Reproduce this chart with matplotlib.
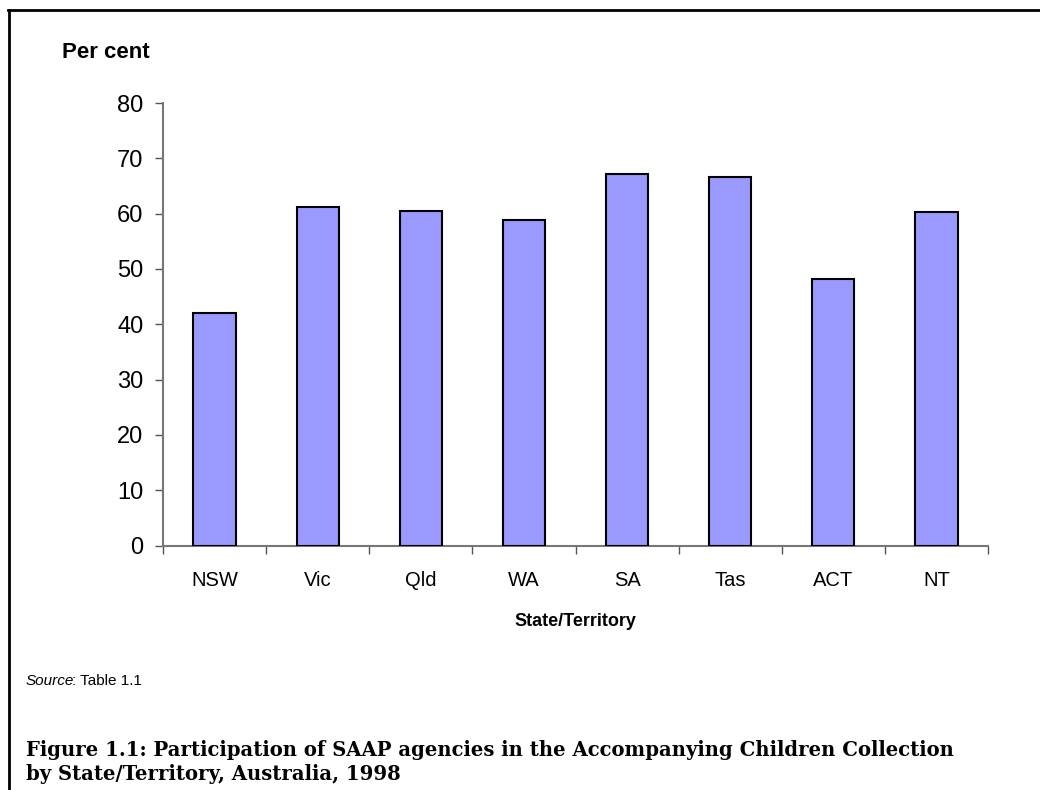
import matplotlib
matplotlib.use('Agg')
import matplotlib.pyplot as plt
from matplotlib.lines import Line2D

# Date
states = ['NSW', 'Vic', 'Qld', 'WA', 'SA', 'Tas', 'ACT', 'NT']
per_cent = [42.1, 61.2, 60.5, 58.8, 67.1, 66.7, 48.2, 60.3]
y_ticks = [0, 10, 20, 30, 40, 50, 60, 70, 80]

plt.rcParams['font.family'] = ['Liberation Sans', 'DejaVu Sans']

fig = plt.figure(figsize=(10.4, 7.9), dpi=100)
fig.patch.set_facecolor('white')

# Axele graficului (coordonate in fractiuni din figura)
ax = fig.add_axes([163 / 1040, 1 - 545.5 / 790, (988 - 163) / 1040, (545.5 - 103) / 790])

x = list(range(len(states)))
ax.bar(x, per_cent, width=0.41, color='#9999FF', edgecolor='black', linewidth=1.5, zorder=3)

ax.set_xlim(-0.5, len(states) - 0.5)
ax.set_ylim(0, 80)
ax.set_yticks(y_ticks)
ax.set_yticklabels([str(v) for v in y_ticks], fontsize=17)

# Tick-urile pe axa x sunt la granitele dintre categorii
ax.set_xticks([i - 0.5 for i in range(len(states) + 1)])
ax.set_xticklabels([])
ax.set_xticks(x, minor=True)
ax.set_xticklabels(states, minor=True, fontsize=14.5)
ax.tick_params(axis='x', which='minor', length=0, pad=18)
ax.tick_params(axis='x', which='major', length=6, width=1, color='#555555', direction='out')
ax.tick_params(axis='y', length=6, width=1, color='#555555', direction='out', pad=8)

for side in ['top', 'right']:
    ax.spines[side].set_visible(False)
for side in ['left', 'bottom']:
    ax.spines[side].set_color('#777777')
    ax.spines[side].set_linewidth(1.5)

ax.set_xlabel('State/Territory', fontsize=13, fontweight='bold', labelpad=17)

fig.text(62 / 1040, 1 - 52 / 790, 'Per cent', fontsize=16, fontweight='bold', va='center', ha='left')

# Sursa
fig.text(26 / 1040, 1 - 681 / 790, 'Source', fontsize=11, style='italic', va='center', ha='left')
fig.text(72 / 1040, 1 - 681 / 790, ': Table 1.1', fontsize=11, va='center', ha='left')

# Titlul figurii
caption = ('Figure 1.1: Participation of SAAP agencies in the Accompanying Children Collection\n'
           'by State/Territory, Australia, 1998')
fig.text(26 / 1040, 1 - 762 / 790, caption, fontsize=14.1, fontweight='bold',
         family='DejaVu Serif', va='center', ha='left', linespacing=1.2)

# Chenarul (doar sus si stanga)
fig.add_artist(Line2D([8 / 1040, 1], [1 - 10 / 790, 1 - 10 / 790], color='black', linewidth=2,
                      transform=fig.transFigure))
fig.add_artist(Line2D([9 / 1040, 9 / 1040], [0, 1 - 10 / 790], color='black', linewidth=2,
                      transform=fig.transFigure))

fig.savefig('out.png', dpi=100)
